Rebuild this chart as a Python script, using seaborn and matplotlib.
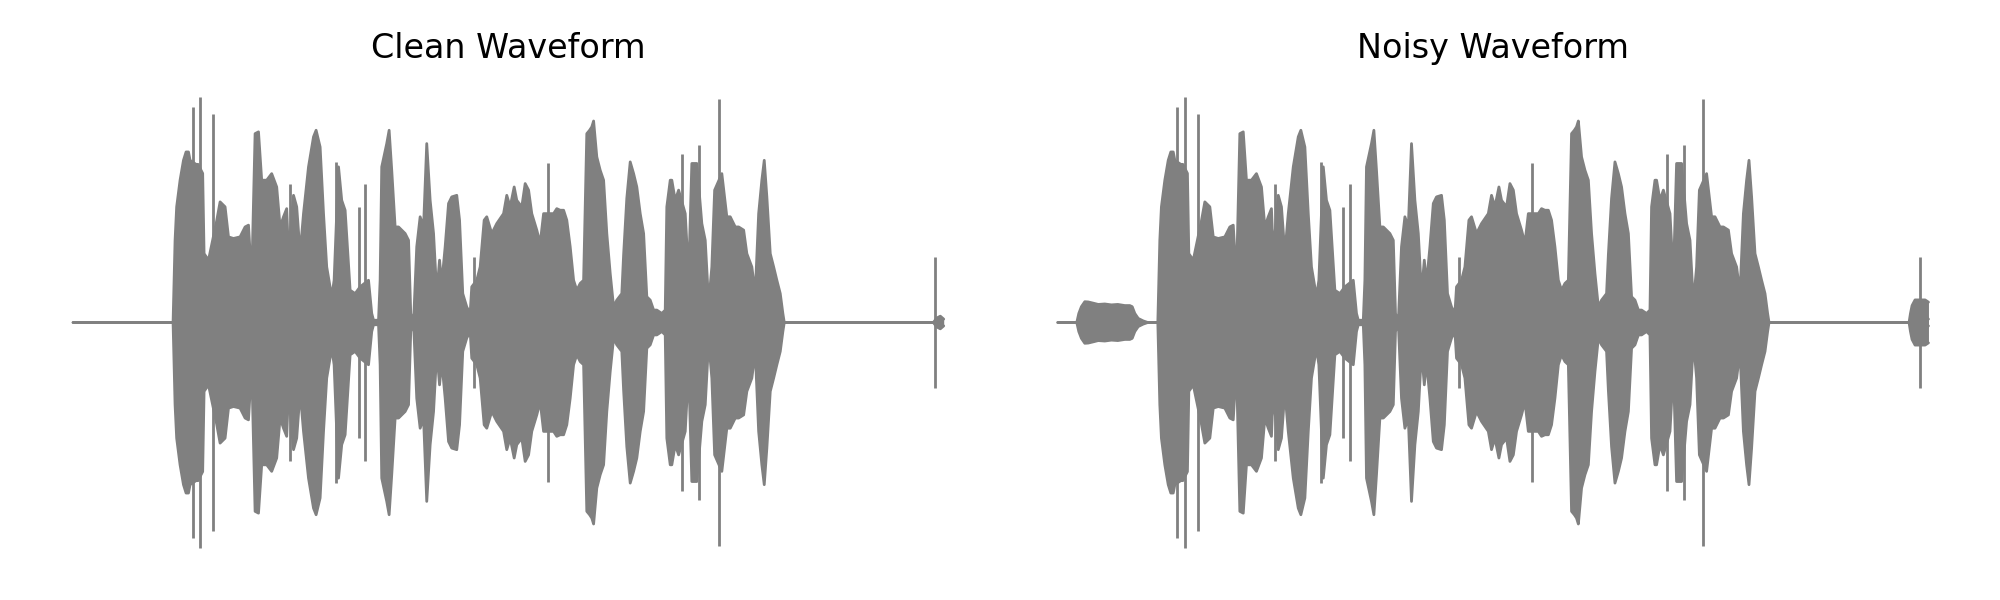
import numpy as np
import matplotlib
matplotlib.use('Agg')
import matplotlib.pyplot as plt
import seaborn as sns


# Огибающая чистого сигнала (время, с / амплитуда)
clean_t = [0.0, 0.50, 0.51, 0.518, 0.535, 0.552, 0.565, 0.577, 0.585, 0.615, 0.625, 0.648, 0.655,
           0.677, 0.718, 0.735, 0.76, 0.777, 0.802, 0.835, 0.86, 0.877, 0.893, 0.91, 0.927, 0.943,
           0.968, 0.993, 1.018, 1.035, 1.052, 1.068, 1.077, 1.102, 1.118, 1.135, 1.152, 1.177, 1.202,
           1.215, 1.235, 1.252, 1.268, 1.293, 1.305, 1.327, 1.343, 1.36, 1.385, 1.41, 1.435, 1.477,
           1.493, 1.502, 1.527, 1.535, 1.543, 1.568, 1.58, 1.593, 1.61, 1.627, 1.643, 1.66, 1.677,
           1.688, 1.702, 1.718, 1.735, 1.752, 1.768, 1.785, 1.802, 1.818, 1.832, 1.843, 1.86, 1.877,
           1.893, 1.918, 1.932, 1.948, 1.968, 1.985, 1.993, 2.018, 2.035, 2.055, 2.068, 2.093, 2.118,
           2.152, 2.168, 2.185, 2.205, 2.218, 2.243, 2.26, 2.277, 2.293, 2.318, 2.335, 2.352, 2.385,
           2.402, 2.418, 2.435, 2.452, 2.468, 2.485, 2.502, 2.518, 2.535, 2.552, 2.568, 2.582, 2.593,
           2.602, 2.618, 2.635, 2.652, 2.668, 2.685, 2.702, 2.718, 2.743, 2.752, 2.768, 2.785, 2.802,
           2.818, 2.835, 2.852, 2.868, 2.885, 2.902, 2.918, 2.943, 2.96, 2.968, 2.985, 2.993, 3.01,
           3.027, 3.06, 3.077, 3.093, 3.118, 3.143, 3.16, 3.177, 3.193, 3.207, 3.243, 3.268, 3.285,
           3.31, 3.327, 3.352, 3.368, 3.393, 3.41, 3.427, 3.443, 3.455, 3.468, 3.485, 3.502, 3.518,
           3.535, 3.548, 3.555, 4.30, 4.318, 4.335, 4.352]
clean_amp = [0.0, 0.0, 0.364, 0.512, 0.630, 0.718, 0.755, 0.755, 0.718, 0.70, 0.70, 0.66, 0.305,
             0.276, 0.45, 0.534, 0.512, 0.379, 0.372, 0.379, 0.423, 0.431, 0.187, 0.836, 0.844, 0.630,
             0.630, 0.659, 0.600, 0.423, 0.468, 0.504, 0.305, 0.563, 0.512, 0.305, 0.482, 0.689, 0.822,
             0.851, 0.777, 0.482, 0.246, 0.114, 0.187, 0.689, 0.541, 0.497, 0.143, 0.128, 0.158, 0.187,
             0.04, 0.01, 0.01, 0.187, 0.689, 0.792, 0.851, 0.674, 0.423, 0.423, 0.409, 0.394, 0.364,
             0.04, 0.0, 0.335, 0.468, 0.423, 0.792, 0.541, 0.394, 0.128, 0.276, 0.173, 0.335, 0.527,
             0.556, 0.563, 0.453, 0.128, 0.069, 0.04, 0.158, 0.187, 0.246, 0.453, 0.468, 0.394, 0.438,
             0.482, 0.563, 0.512, 0.600, 0.541, 0.512, 0.615, 0.586, 0.482, 0.409, 0.350, 0.482, 0.482,
             0.482, 0.504, 0.497, 0.497, 0.453, 0.335, 0.187, 0.143, 0.173, 0.187, 0.836, 0.851, 0.866,
             0.892, 0.733, 0.674, 0.630, 0.394, 0.217, 0.069, 0.099, 0.128, 0.30, 0.55, 0.711, 0.659,
             0.600, 0.482, 0.394, 0.114, 0.099, 0.055, 0.055, 0.04, 0.055, 0.512, 0.630, 0.630, 0.541,
             0.586, 0.482, 0.202, 0.704, 0.704, 0.438, 0.364, 0.084, 0.246, 0.586, 0.659, 0.468, 0.468,
             0.423, 0.423, 0.409, 0.305, 0.246, 0.128, 0.482, 0.630, 0.718, 0.556, 0.305, 0.246, 0.187,
             0.128, 0.040, 0.0, 0.0, 0.02, 0.028, 0.015]

# Отдельные узкие пики
spike_t = [0.598, 0.635, 0.702, 1.085, 1.315, 1.428, 1.46, 2.005, 2.372, 3.043, 3.13, 3.227, 4.31]
spike_amp = [0.954, 0.998, 0.925, 0.615, 0.711, 0.512, 0.615, 0.291, 0.704, 0.748, 0.785, 0.991, 0.29]

# Шум в зашумлённом сигнале: в начале и в конце
noise_head_t = [0.095, 0.105, 0.118, 0.135, 0.152, 0.18, 0.202, 0.235, 0.268, 0.30, 0.335, 0.36,
                0.372, 0.385, 0.402, 0.427, 0.45]
noise_head_amp = [0.0, 0.04, 0.07, 0.092, 0.091, 0.085, 0.08, 0.082, 0.078, 0.08, 0.075, 0.075,
                  0.07, 0.04, 0.018, 0.007, 0.0]
noise_tail_t = [4.255, 4.262, 4.27, 4.285, 4.31, 4.335, 4.352]
noise_tail_amp = [0.0, 0.04, 0.075, 0.10, 0.10, 0.10, 0.09]

titles = ['Clean Waveform', 'Noisy Waveform']
wave_color = 'gray'


def draw_envelope(ax, t, amp, outline=True):
    t = np.asarray(t)
    amp = np.asarray(amp)
    ax.fill_between(t, -amp, amp, color=wave_color, lw=0)
    if outline:
        sns.lineplot(x=t, y=amp, color=wave_color, lw=1, estimator=None, ax=ax)
        sns.lineplot(x=t, y=-amp, color=wave_color, lw=1, estimator=None, ax=ax)


sns.set_style('white')
fig, axes = plt.subplots(1, 2, figsize=(10, 3), dpi=200)
fig.subplots_adjust(left=0.01475, right=0.986, top=0.8758, bottom=0.0492, wspace=0.0282)

for i, ax in enumerate(axes):
    draw_envelope(ax, clean_t, clean_amp)
    ax.vlines(spike_t, -np.asarray(spike_amp), spike_amp, color=wave_color, lw=1)
    if i == 1:
        draw_envelope(ax, noise_head_t, noise_head_amp)
        draw_envelope(ax, noise_tail_t, noise_tail_amp)
    ax.set_title(titles[i], fontsize=12, color='black')
    ax.axis('off')

fig.savefig('out.png', dpi=200)
